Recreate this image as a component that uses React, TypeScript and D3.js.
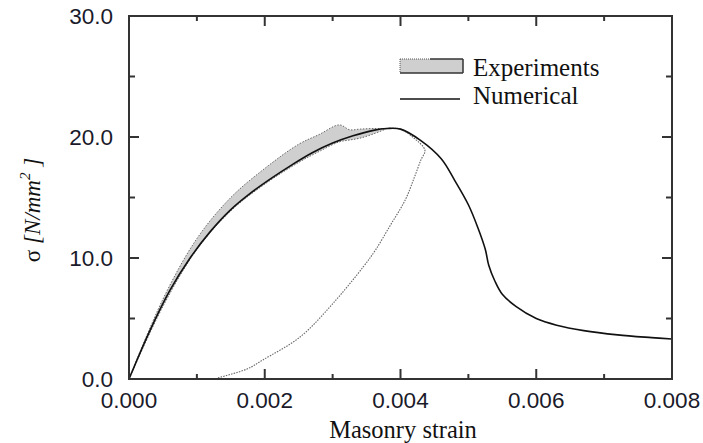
import React from "react";
import * as d3 from "d3";

const xTicksMajor = [0, 0.002, 0.004, 0.006, 0.008];
const yTicksMajor = [0, 10, 20, 30];

const numStrain = [0, 0.0003, 0.0006, 0.0009, 0.0012, 0.0015, 0.0018, 0.0021, 0.0024, 0.0027, 0.003, 0.0033, 0.0036, 0.0038, 0.004, 0.0043, 0.0046, 0.0048, 0.005, 0.00514, 0.00525, 0.0053, 0.00539, 0.0055, 0.0057, 0.006, 0.0063, 0.0067, 0.0072, 0.0077, 0.008];
const numStress = [0, 3.9, 7.3, 10.0, 12.2, 14.0, 15.4, 16.6, 17.7, 18.7, 19.5, 20.1, 20.55, 20.7, 20.65, 19.7, 18.2, 16.4, 14.4, 12.5, 10.7, 9.4, 8.1, 7.0, 6.0, 5.0, 4.45, 4.0, 3.65, 3.42, 3.3];

const bandStrain = [0, 0.0005, 0.001, 0.0015, 0.002, 0.0025, 0.0028, 0.0031, 0.00325, 0.0034, 0.0036, 0.0038];
const bandUpper = [0, 6.6, 11.6, 15.0, 17.4, 19.4, 20.2, 21.0, 20.6, 20.65, 20.7, 20.7];
const bandLower = [0, 6.0, 10.7, 13.9, 16.1, 17.9, 18.8, 19.6, 19.75, 19.9, 20.25, 20.7];

const unloadStrain = [0.0038, 0.004, 0.0042, 0.00436, 0.0043, 0.0042, 0.00407, 0.00385, 0.00363, 0.00345, 0.00301, 0.00252, 0.00197, 0.00174, 0.0013];
const unloadStress = [20.7, 20.65, 19.9, 18.9, 18.1, 16.6, 14.8, 12.7, 10.65, 9.26, 6.28, 3.47, 1.57, 0.83, 0.08];

const W = 703, H = 443;
const L = 129, R = 672, T = 16, B = 379;

export default function App() {
  const x = d3.scaleLinear().domain([0, 0.008]).range([L, R]);
  const y = d3.scaleLinear().domain([0, 30]).range([B, T]);

  const lineGen = d3.line<[number, number]>()
    .x(d => x(d[0])).y(d => y(d[1]))
    .curve(d3.curveCatmullRom.alpha(0.5));

  const numPts = numStrain.map((s, i) => [s, numStress[i]] as [number, number]);
  const upperPts = bandStrain.map((s, i) => [s, bandUpper[i]] as [number, number]);
  const lowerPts = bandStrain.map((s, i) => [s, bandLower[i]] as [number, number]);
  const unloadPts = unloadStrain.map((s, i) => [s, unloadStress[i]] as [number, number]);

  const areaGen = d3.area<number>()
    .x(i => x(bandStrain[i]))
    .y0(i => y(bandLower[i]))
    .y1(i => y(bandUpper[i]))
    .curve(d3.curveCatmullRom.alpha(0.5));

  const xMinor = d3.range(0, 0.0081, 0.001);
  const yMinor = d3.range(0, 30.1, 5);
  const axisColor = "#333";
  const sans = "'Liberation Sans', Arial, sans-serif";
  const serif = "'Liberation Serif', 'Times New Roman', serif";

  return (
    <svg width={W} height={H} style={{ position: "absolute", left: 0, top: 0, background: "#fff" }}>
      <rect x={0} y={0} width={W} height={H} fill="#fff" />
      {/* band */}
      <path d={areaGen(d3.range(bandStrain.length)) || ""} fill="#cfcfcf" stroke="none" />
      <path d={lineGen(upperPts) || ""} fill="none" stroke="#666" strokeWidth={1} strokeDasharray="1.5,1.5" />
      <path d={lineGen(lowerPts) || ""} fill="none" stroke="#666" strokeWidth={1} strokeDasharray="1.5,1.5" />
      <path d={lineGen(unloadPts) || ""} fill="none" stroke="#666" strokeWidth={1.1} strokeDasharray="1.5,1.2" />
      <path d={lineGen(numPts) || ""} fill="none" stroke="#111" strokeWidth={1.6} />

      {/* frame */}
      <rect x={L} y={T} width={R - L} height={B - T} fill="none" stroke={axisColor} strokeWidth={2} />
      {xMinor.map((v, i) => {
        const len = i % 2 === 0 ? 10 : 5;
        return (
          <g key={"xt" + i}>
            <line x1={x(v)} x2={x(v)} y1={B} y2={B - len} stroke={axisColor} strokeWidth={2} />
            <line x1={x(v)} x2={x(v)} y1={T} y2={T + len} stroke={axisColor} strokeWidth={2} />
          </g>
        );
      })}
      {yMinor.map((v, i) => {
        const len = i % 2 === 0 ? 10 : 6;
        return (
          <g key={"yt" + i}>
            <line x1={L} x2={L + len} y1={y(v)} y2={y(v)} stroke={axisColor} strokeWidth={2} />
            <line x1={R} x2={R - len} y1={y(v)} y2={y(v)} stroke={axisColor} strokeWidth={2} />
          </g>
        );
      })}
      {xTicksMajor.map((v, i) => (
        <text key={"xl" + i} x={x(v)} y={408} textAnchor="middle" fontFamily={sans} fontSize={22.5} fill="#1a1a2a">
          {d3.format(".3f")(v)}
        </text>
      ))}
      {yTicksMajor.map((v, i) => (
        <text key={"yl" + i} x={113} y={y(v) + 8} textAnchor="end" fontFamily={sans} fontSize={22.5} fill="#1a1a2a">
          {d3.format(".1f")(v)}
        </text>
      ))}
      <text x={403} y={438} textAnchor="middle" fontFamily={serif} fontSize={24.5} fill="#111">Masonry strain</text>
      <text transform="translate(40,210) rotate(-90)" textAnchor="middle" fontFamily={serif} fontSize={23} fill="#111">
        <tspan>σ </tspan>
        <tspan fontStyle="italic">[N/mm</tspan>
        <tspan fontStyle="italic" fontSize={15} dy={-10}>2</tspan>
        <tspan fontStyle="italic" dy={10}> ]</tspan>
      </text>

      {/* legend */}
      <rect x={400} y={59} width={63} height={14} fill="#cfcfcf" stroke="none" />
      <line x1={400} x2={463} y1={73} y2={73} stroke="#333" strokeWidth={1.5} />
      <line x1={463} x2={463} y1={59} y2={73} stroke="#333" strokeWidth={1.5} />
      <line x1={430} x2={463} y1={59} y2={59} stroke="#333" strokeWidth={1.5} />
      <line x1={400} x2={430} y1={59} y2={59} stroke="#555" strokeWidth={1} strokeDasharray="1,1" />
      <line x1={400} x2={400} y1={59} y2={73} stroke="#555" strokeWidth={1} strokeDasharray="1,1" />
      <text x={473} y={76} fontFamily={serif} fontSize={25} fill="#111">Experiments</text>
      <line x1={400} x2={460} y1={99} y2={99} stroke="#111" strokeWidth={1.5} />
      <text x={473} y={104} fontFamily={serif} fontSize={25} fill="#111">Numerical</text>
    </svg>
  );
}
